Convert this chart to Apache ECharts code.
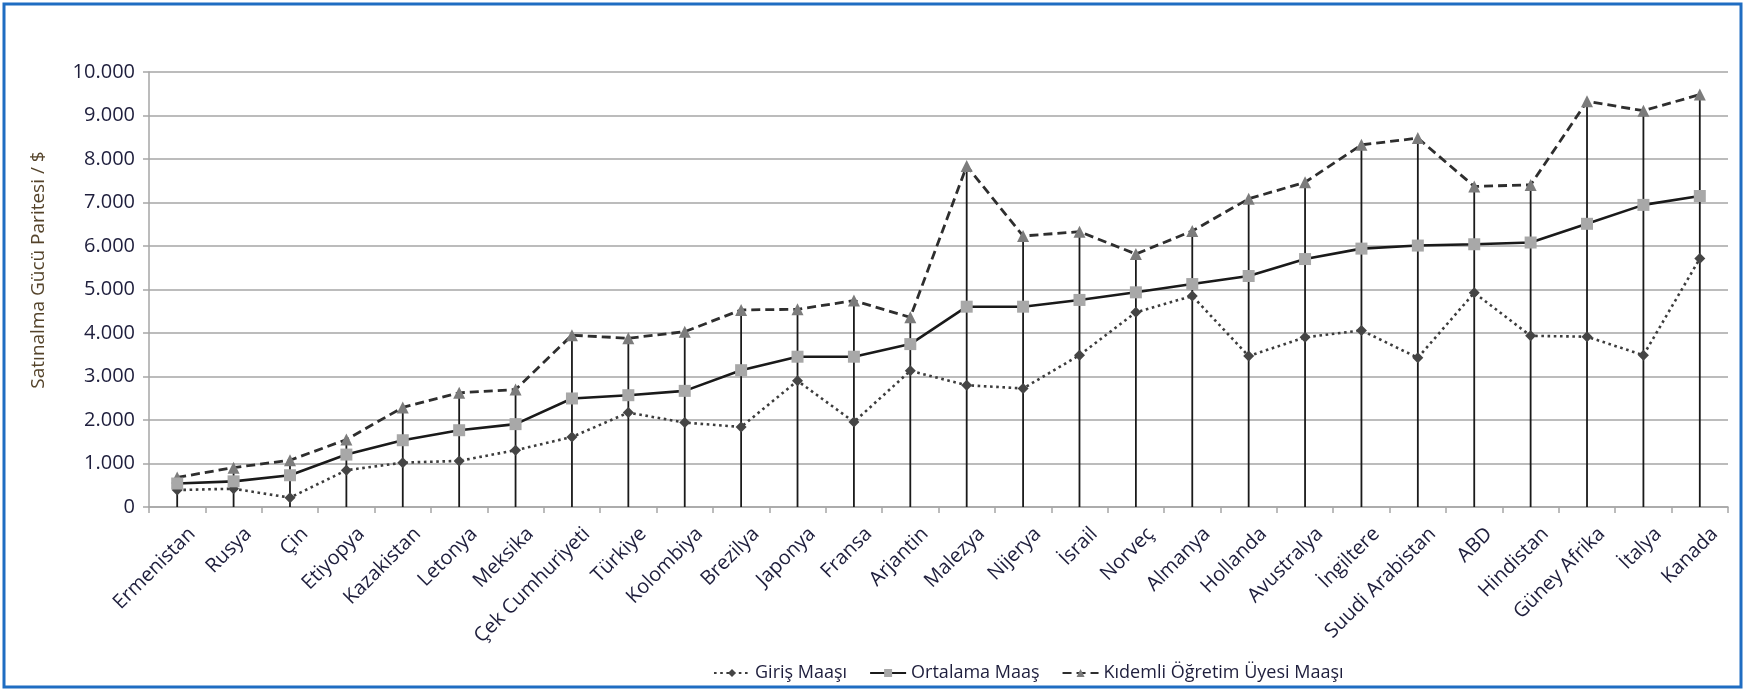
<!DOCTYPE html>
<html>
<head>
<meta charset="utf-8">
<script src="https://cdn.jsdelivr.net/npm/echarts@6/dist/echarts.min.js"></script>
<style>
  html, body { margin: 0; padding: 0; background: #ffffff; }
  #chart { width: 1744px; height: 692px; }
</style>
</head>
<body>
<div id="chart"></div>
<script>
// Ülkeler (kategori ekseni)
const countries = ['Ermenistan', 'Rusya', 'Çin', 'Etiyopya', 'Kazakistan', 'Letonya', 'Meksika',
  'Çek Cumhuriyeti', 'Türkiye', 'Kolombiya', 'Brezilya', 'Japonya', 'Fransa', 'Arjantin',
  'Malezya', 'Nijerya', 'İsrail', 'Norveç', 'Almanya', 'Hollanda', 'Avustralya', 'İngiltere',
  'Suudi Arabistan', 'ABD', 'Hindistan', 'Güney Afrika', 'İtalya', 'Kanada'];

// Maaşlar, satınalma gücü paritesine göre ($)
const girisMaasi = [390, 420, 215, 845, 1020, 1060, 1305, 1610, 2170, 1940, 1840, 2900, 1955, 3130,
  2800, 2725, 3490, 4475, 4850, 3470, 3900, 4060, 3430, 4925, 3935, 3915, 3490, 5710];
const ortalamaMaas = [540, 590, 730, 1205, 1535, 1765, 1905, 2495, 2570, 2670, 3145, 3455, 3455, 3745,
  4605, 4605, 4760, 4935, 5125, 5310, 5700, 5940, 6010, 6040, 6080, 6510, 6945, 7150];
const kidemliMaas = [680, 905, 1075, 1550, 2290, 2625, 2700, 3950, 3880, 4030, 4530, 4545, 4745, 4360,
  7840, 6230, 6330, 5815, 6345, 7085, 7465, 8325, 8480, 7370, 7405, 9325, 9110, 9480];

const seriesNames = ['Giriş Maaşı', 'Ortalama Maaş', 'Kıdemli Öğretim Üyesi Maaşı'];

// Y ekseni
const yMin = 0, yMax = 10000, yStep = 1000;
const yTitle = 'Satınalma Gücü Paritesi / $';

// Her ülke için en yüksek değerden eksene inen dikey çizgi
const dropTops = countries.map((_, i) => Math.max(girisMaasi[i], ortalamaMaas[i], kidemliMaas[i]));

const FONT = '"Open Sans", "DejaVu Sans", sans-serif';
const TEXT = '#1e1e3c';
const GRID = '#a6a6a6';

const fmt = v => String(v).replace(/\B(?=(\d{3})+(?!\d))/g, '.');

const chart = echarts.init(document.getElementById('chart'), null, { renderer: 'canvas' });

chart.setOption({
  backgroundColor: '#ffffff',
  animation: false,
  textStyle: { fontFamily: FONT },
  grid: { left: 149, right: 16, top: 72, bottom: 185, containLabel: false },
  legend: {
    data: seriesNames,
    left: 708,
    top: 659,
    itemWidth: 36,
    itemHeight: 10,
    itemGap: 22,
    textStyle: { fontFamily: FONT, fontSize: 18, color: TEXT }
  },
  xAxis: {
    type: 'category',
    data: countries,
    boundaryGap: true,
    axisLine: { lineStyle: { color: GRID, width: 1.5 } },
    axisTick: { show: true, length: 6, lineStyle: { color: GRID, width: 1.5 } },
    axisLabel: {
      interval: 0,
      rotate: 45,
      margin: 9,
      // boş ilk satır, etiketi eğik yönde biraz aşağı-sağa kaydırır
      formatter: v => '\n' + v,
      lineHeight: 42,
      fontFamily: FONT,
      fontSize: 20,
      color: TEXT
    },
    splitLine: { show: false }
  },
  yAxis: {
    type: 'value',
    min: yMin,
    max: yMax,
    interval: yStep,
    axisLine: { show: true, lineStyle: { color: GRID, width: 1.5 } },
    axisTick: { show: true, length: 6, lineStyle: { color: GRID, width: 1.5 } },
    axisLabel: {
      margin: 14,
      fontFamily: FONT,
      fontSize: 20,
      color: TEXT,
      formatter: fmt
    },
    splitLine: { show: true, lineStyle: { color: GRID, width: 1.5 } }
  },
  graphic: [
    {
      type: 'rect',
      silent: true,
      shape: { x: 4, y: 4, width: 1737, height: 683 },
      style: { fill: 'none', stroke: '#1f6dc2', lineWidth: 3 }
    },
    {
      type: 'text',
      silent: true,
      x: 39,
      y: 270,
      rotation: Math.PI / 2,
      style: {
        text: yTitle,
        fontFamily: FONT,
        fontSize: 19,
        fill: '#54432a',
        align: 'center',
        verticalAlign: 'middle'
      }
    }
  ],
  series: [
    {
      name: 'drop',
      type: 'bar',
      data: dropTops,
      barWidth: 1.8,
      itemStyle: { color: '#1a1a1a' },
      z: 1,
      silent: true
    },
    {
      name: seriesNames[0],
      type: 'line',
      data: girisMaasi,
      symbol: 'diamond',
      symbolSize: 11,
      itemStyle: { color: '#454545' },
      lineStyle: { color: '#3c3c3c', width: 2.6, type: [2.6, 3.6] },
      z: 3
    },
    {
      name: seriesNames[1],
      type: 'line',
      data: ortalamaMaas,
      symbol: 'rect',
      symbolSize: 12,
      itemStyle: { color: '#a8a8a8' },
      lineStyle: { color: '#1a1a1a', width: 2.6, type: 'solid' },
      z: 4
    },
    {
      name: seriesNames[2],
      type: 'line',
      data: kidemliMaas,
      symbol: 'triangle',
      symbolSize: 12,
      itemStyle: { color: '#7c7c7c' },
      lineStyle: { color: '#2e2e2e', width: 2.8, type: [9, 5] },
      z: 3
    }
  ]
});
</script>
</body>
</html>
